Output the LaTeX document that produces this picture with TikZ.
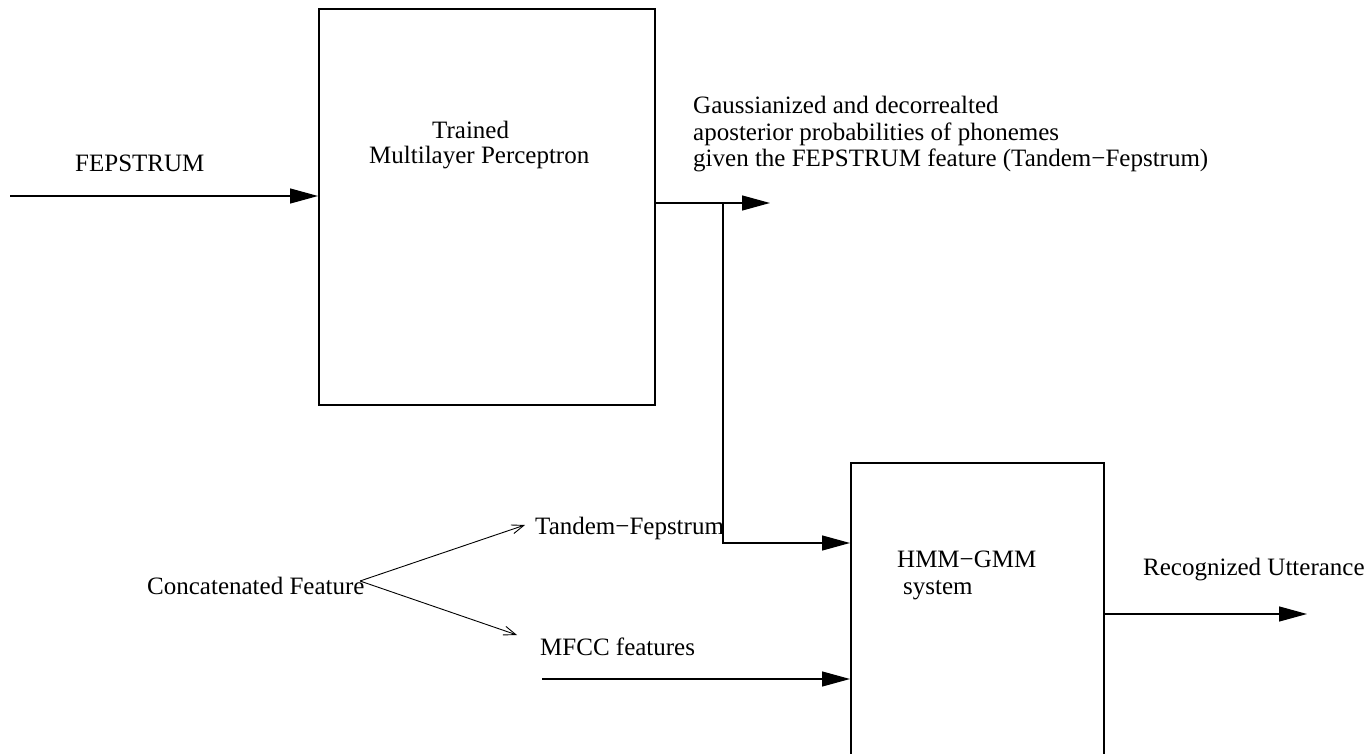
\documentclass[tikz,border=0pt]{standalone}
\usepackage{fontspec}
\setmainfont{Liberation Serif}
\usetikzlibrary{arrows.meta}
\begin{document}
\begin{tikzpicture}[x=1pt,y=-1pt,
  blk/.style={draw, line width=1.8pt, inner sep=0pt, anchor=north west},
  lbl/.style={font=\fontsize{25}{27.5}\selectfont, inner sep=0pt, anchor=base west},
  flow/.style={line width=1.3pt, -{Triangle[length=28pt,width=15pt]}},
  fork/.style={line width=0.9pt, -{Straight Barb[length=12pt,width=9pt]}}]
\useasboundingbox (0,0) rectangle (1369,754);

% processing blocks
\node[blk, minimum width=336pt, minimum height=396pt] (mlp) at (318,8) {};
\node[blk, minimum width=253pt, minimum height=330pt] (hmm) at (850,462) {};

% labels
\node[lbl] (fep)   at (75,172)   {FEPSTRUM};
\node[lbl] (trn)   at (432,139)  {Trained};
\node[lbl] (mlpt)  at (369,164)  {Multilayer Perceptron};
\node[lbl] (g1)    at (693,114)  {Gaussianized and decorrealted};
\node[lbl] (g2)    at (693,140.5){aposterior probabilities of phonemes};
\node[lbl] (g3)    at (693,167)  {given the FEPSTRUM feature (Tandem−Fepstrum)};
\node[lbl] (tand)  at (535,534)  {Tandem−Fepstrum};
\node[lbl] (conc)  at (147,594)  {Concatenated Feature};
\node[lbl] (mfcc)  at (540,655)  {MFCC features};
\node[lbl] (hg)    at (897,567)  {HMM−GMM};
\node[lbl] (sys)   at (903,594)  {system};
\node[lbl] (rec)   at (1143,575) {Recognized Utterance};

% connector end points
\coordinate (src)   at (10,196);
\coordinate (post)  at (770,203);
\coordinate (br)    at (723,203);
\coordinate (trow)  at (0,543);
\coordinate (mfin)  at (542,679);
\coordinate (utt)   at (1307,614);
\coordinate (split) at (360,581);
\coordinate (tup)   at (525,525);
\coordinate (tdn)   at (517,635);

% connectors
\draw[flow] (src) -- (src -| mlp.west);
\draw[flow] (mlp.east |- post) -- (post);
\draw[flow] (br) |- (hmm.west |- trow);
\draw[flow] (mfin) -- (mfin -| hmm.west);
\draw[flow] (hmm.east |- utt) -- (utt);
\draw[fork] (split) -- (tup);
\draw[fork] (split) -- (tdn);
\end{tikzpicture}
\end{document}
